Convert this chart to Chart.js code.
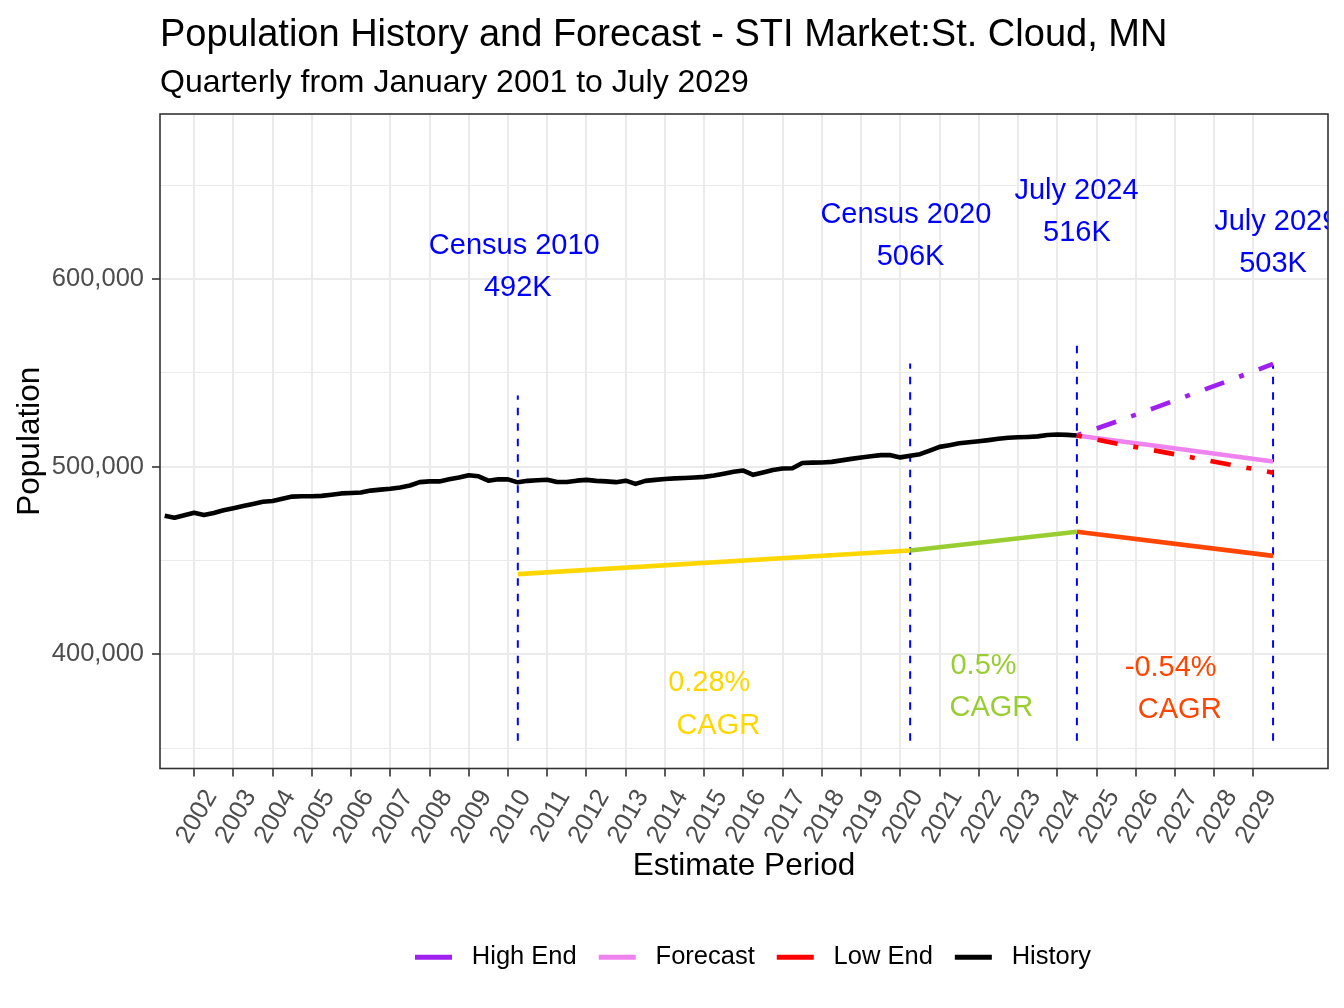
<!DOCTYPE html>
<html>
<head>
<meta charset="utf-8">
<title>Population History and Forecast</title>
<script src="https://cdn.jsdelivr.net/npm/chart.js@4.4.1/dist/chart.umd.min.js"></script>
<style>
	html, body { margin: 0; padding: 0; background: #ffffff; }
	#wrap { width: 1344px; height: 1008px; }
</style>
</head>
<body>
<div id="wrap"><canvas id="popChart" width="1344" height="1008"></canvas></div>
<script>
// data

// quarterly history, first quarter 2001 Q2 .. July 2024
const historyStart = 2001.25;
const historyValues = [
	473900, 472800, 474200,
	475500, 474300, 475400, 476800,
	477900, 479100, 480200, 481400,
	481800, 483000, 484100, 484300,
	484300, 484500, 485100, 485800,
	486000, 486300, 487300, 487800,
	488300, 489000, 490000, 491800,
	492200, 492200, 493300, 494300,
	495500, 494900, 492600, 493300,
	493300, 491700, 492500, 492800,
	493100, 491900, 491900, 492600,
	493000, 492500, 492200, 491800,
	492600, 490900, 492500, 493000,
	493500, 493800, 494000, 494300,
	494600, 495300, 496300, 497300,
	498000, 495700, 497000, 498300,
	499100, 499200, 502000, 502200,
	502300, 502600, 503400, 504200,
	504900, 505600, 506200, 506200,
	505000, 505900, 506700, 508600,
	510600, 511500, 512500, 513100,
	513600, 514200, 514900, 515500,
	515700, 515900, 516200, 516900,
	517200, 517000, 516700
];

// forecast scenarios, July of each year
const forecastYears = [2024.5, 2025.5, 2026.5, 2027.5, 2028.5, 2029.5];
const highEndValues = [516700, 524000, 531500, 539200, 546900, 554800];
const forecastValues = [516700, 513900, 511200, 508400, 505600, 502800];
const lowEndValues = [516700, 512400, 508600, 504700, 500800, 496800];

// census / estimate markers
const markerYears = [2010.25, 2020.25, 2024.5, 2029.5];
const markerNames = ["Census 2010", "Census 2020", "July 2024", "July 2029"];
const markerLabels = ["492K", "506K", "516K", "503K"];
const markerTops = [538000, 555000, 568000, 554000];
const markerBottom = 354000;

// CAGR guide segments
const cagrYears = [[2010.25, 2020.25], [2020.25, 2024.5], [2024.5, 2029.5]];
const cagrValues = [[442800, 455400], [455400, 465400], [465400, 452500]];
const cagrLabels = ["0.28%", "0.5%", "-0.54%"];

// axes
const xTickYears = [2002, 2003, 2004, 2005, 2006, 2007, 2008, 2009, 2010, 2011,
	2012, 2013, 2014, 2015, 2016, 2017, 2018, 2019, 2020, 2021,
	2022, 2023, 2024, 2025, 2026, 2027, 2028, 2029];
const yTickValues = [400000, 500000, 600000];
const yTickLabels = ["400,000", "500,000", "600,000"];
const yMinorValues = [350000, 450000, 550000, 650000];

const legendNames = ["High End", "Forecast", "Low End", "History"];

// styles
const FONT = "'Liberation Sans', Arial, Helvetica, sans-serif";
const C_HIGH = "#A020F0";
const C_FC = "#EE82EE";
const C_LOW = "#FF0000";
const C_HIST = "#000000";
const C_MARK = "#0000FF";
const cagrColors = ["#FFD700", "#9ACD32", "#FF4500"];
const legendColors = [C_HIGH, C_FC, C_LOW, C_HIST];
const DOTDASH = [5, 16, 20.5, 16];

// text placement in data units (year, population)
const notes = [
	{ text: markerNames[0], x: 2010.16, y: 617900, color: C_MARK },
	{ text: markerLabels[0], x: 2010.25, y: 595500, color: C_MARK },
	{ text: markerNames[1], x: 2020.14, y: 634400, color: C_MARK },
	{ text: markerLabels[1], x: 2020.26, y: 612000, color: C_MARK },
	{ text: markerNames[2], x: 2024.49, y: 647200, color: C_MARK },
	{ text: markerLabels[2], x: 2024.5, y: 624800, color: C_MARK },
	{ text: markerNames[3], x: 2029.58, y: 630700, color: C_MARK },
	{ text: markerLabels[3], x: 2029.5, y: 608300, color: C_MARK },
	{ text: cagrLabels[0], x: 2015.13, y: 384800, color: cagrColors[0] },
	{ text: "CAGR", x: 2015.36, y: 361900, color: cagrColors[0] },
	{ text: cagrLabels[1], x: 2022.12, y: 393900, color: cagrColors[1] },
	{ text: "CAGR", x: 2022.32, y: 371500, color: cagrColors[1] },
	{ text: cagrLabels[2], x: 2026.89, y: 392800, color: cagrColors[2] },
	{ text: "CAGR", x: 2027.12, y: 370400, color: cagrColors[2] }
];

function pts(xs, ys) {
	return xs.map(function (x, i) { return { x: x, y: ys[i] }; });
}

const historyYears = historyValues.map(function (v, i) { return historyStart + i * 0.25; });

function lineSet(label, data, color, extra) {
	return Object.assign({
		label: label,
		data: data,
		borderColor: color,
		backgroundColor: color,
		borderWidth: 4.6,
		borderCapStyle: "butt",
		borderJoinStyle: "round",
		pointRadius: 0,
		tension: 0,
		fill: false
	}, extra || {});
}

const datasets = [];
// forecast lines on top
datasets.push(lineSet("Low End", pts(forecastYears, lowEndValues), C_LOW, { borderDash: DOTDASH, order: 1 }));
datasets.push(lineSet("Forecast", pts(forecastYears, forecastValues), C_FC, { order: 2 }));
datasets.push(lineSet("High End", pts(forecastYears, highEndValues), C_HIGH, { borderDash: DOTDASH, order: 3 }));
datasets.push(lineSet("History", pts(historyYears, historyValues), C_HIST, { order: 4 }));
cagrYears.forEach(function (yrs, i) {
	datasets.push(lineSet("CAGR " + i, pts(yrs, cagrValues[i]), cagrColors[i], { order: 5 }));
});
markerYears.forEach(function (yr, i) {
	datasets.push(lineSet(markerNames[i], pts([yr, yr], [markerBottom, markerTops[i]]), C_MARK,
		{ borderWidth: 2, borderDash: [7.5, 8], order: 6 }));
});

const decor = {
	id: "decor",
	afterLayout(chart) {
		// legend sits left-aligned from this point, like the ggplot guide
		const lg = chart.legend;
		const shift = 393 - lg.left;
		lg.left += shift;
		lg.right += shift;
	},
	afterDatasetsDraw(chart) {
		const ctx = chart.ctx;
		const a = chart.chartArea;
		const xs = chart.scales.x;
		const ys = chart.scales.y;
		ctx.save();
		ctx.beginPath();
		ctx.rect(a.left, a.top, a.right - a.left, a.bottom - a.top);
		ctx.clip();
		ctx.font = "29px " + FONT;
		ctx.textAlign = "center";
		ctx.textBaseline = "middle";
		notes.forEach(function (n) {
			ctx.fillStyle = n.color;
			ctx.fillText(n.text, xs.getPixelForValue(n.x), ys.getPixelForValue(n.y));
		});
		ctx.restore();

		ctx.save();
		ctx.strokeStyle = "#333333";
		ctx.lineWidth = 1.6;
		ctx.strokeRect(a.left, a.top, a.right - a.left, a.bottom - a.top);
		ctx.restore();
	},
	afterDraw(chart) {
		const ctx = chart.ctx;
		const a = chart.chartArea;
		ctx.save();
		ctx.fillStyle = "#000000";
		ctx.textAlign = "left";
		ctx.textBaseline = "alphabetic";
		ctx.font = "38px " + FONT;
		ctx.fillText("Population History and Forecast - STI Market:St. Cloud, MN", a.left, 46);
		ctx.font = "32px " + FONT;
		ctx.fillText("Quarterly from January 2001 to July 2029", a.left, 92);
		ctx.restore();
	}
};

Chart.defaults.font.family = FONT;

const chart = new Chart(document.getElementById("popChart"), {
	type: "line",
	data: { datasets: datasets },
	options: {
		responsive: false,
		animation: false,
		devicePixelRatio: 1,
		events: [],
		layout: { padding: { top: 114, right: 16, bottom: 28, left: 0 } },
		scales: {
			x: {
				type: "linear",
				min: 2001.13,
				max: 2030.9,
				afterBuildTicks: function (scale) {
					scale.ticks = xTickYears.map(function (v) { return { value: v }; });
				},
				afterFit: function (scale) { scale.height = 154; },
				ticks: {
					autoSkip: false,
					minRotation: 60,
					maxRotation: 60,
					padding: 8,
					labelOffset: 17,
					color: "#4d4d4d",
					font: { size: 25.5 },
					callback: function (value) { return String(value); }
				},
				grid: {
					color: "#ebebeb",
					lineWidth: 2,
					tickColor: "#333333",
					tickWidth: 1.6,
					tickLength: 8
				},
				border: { display: false },
				title: {
					display: true,
					text: "Estimate Period",
					color: "#000000",
					font: { size: 31.5 },
					padding: { top: 0, bottom: 37 }
				}
			},
			y: {
				type: "linear",
				min: 339200,
				max: 688000,
				afterBuildTicks: function (scale) {
					scale.ticks = yMinorValues.concat(yTickValues)
						.sort(function (p, q) { return p - q; })
						.map(function (v) { return { value: v }; });
				},
				afterFit: function (scale) { scale.width = 160; },
				ticks: {
					padding: 8,
					color: "#4d4d4d",
					font: { size: 25.5 },
					callback: function (value) {
						const k = yTickValues.indexOf(value);
						return k >= 0 ? yTickLabels[k] : "";
					}
				},
				grid: {
					color: "#ebebeb",
					lineWidth: function (c) { return yTickValues.indexOf(c.tick.value) >= 0 ? 2 : 1; },
					tickColor: function (c) { return yTickValues.indexOf(c.tick.value) >= 0 ? "#333333" : "rgba(0,0,0,0)"; },
					tickWidth: 1.6,
					tickLength: 8
				},
				border: { display: false },
				title: {
					display: true,
					text: "Population",
					color: "#000000",
					font: { size: 31.5 },
					padding: { top: 11, bottom: 0 }
				}
			}
		},
		plugins: {
			tooltip: { enabled: false },
			title: { display: false },
			legend: {
				display: true,
				position: "bottom",
				align: "start",
				labels: {
					color: "#000000",
					font: { size: 25.5 },
					boxWidth: 37,
					boxHeight: 5,
					padding: 22,
					generateLabels: function () {
						return legendNames.map(function (name, i) {
							return {
								text: " " + name,
								fillStyle: legendColors[i],
								strokeStyle: legendColors[i],
								lineWidth: 0,
								hidden: false,
								datasetIndex: i
							};
						});
					}
				}
			}
		}
	},
	plugins: [decor]
});
</script>
</body>
</html>
